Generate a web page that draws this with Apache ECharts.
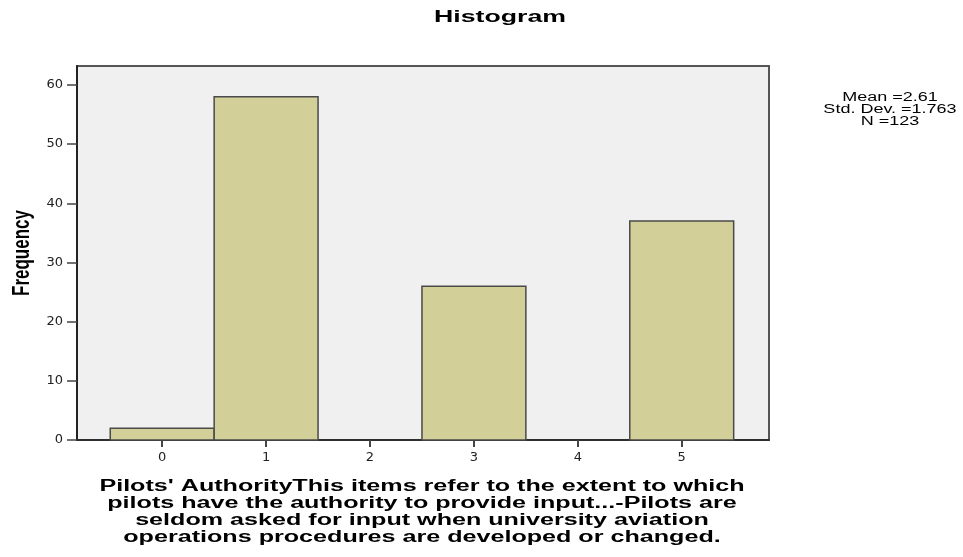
<!DOCTYPE html>
<html>
<head>
<meta charset="utf-8">
<script src="https://cdn.jsdelivr.net/npm/echarts@6/dist/echarts.min.js"></script>
<style>html,body{margin:0;padding:0;background:#fff}#c{width:963px;height:557px}</style>
</head>
<body>
<div id="c"></div>
<script>
const binCenters = [0, 1, 2, 3, 4, 5];
const frequencies = [2, 58, 0, 26, 0, 37];
const xTickValues = [0, 1, 2, 3, 4, 5];
const yTickValues = [0, 10, 20, 30, 40, 50, 60];
const statsLines = ['Mean =2.61', 'Std. Dev. =1.763', 'N =123'];
const titleText = 'Histogram';
const yTitle = 'Frequency';
const xTitleLines = [
  "Pilots' AuthorityThis items refer to the extent to which",
  "pilots have the authority to provide input...-Pilots are",
  "seldom asked for input when university aviation",
  "operations procedures are developed or changed."
];

const FONT = '"Liberation Sans", Arial, sans-serif';
const TICKFONT = '"DejaVu Sans", "Liberation Sans", sans-serif';
const chart = echarts.init(document.getElementById('c'), null, {renderer: 'canvas'});
const data = binCenters.map((x, i) => [x, frequencies[i]]);

chart.setOption({
  animation: false,
  backgroundColor: '#ffffff',
  graphic: [
    {
      type: 'text', x: 500, y: 9, scaleX: 1.57,
      style: {text: titleText, font: 'bold 17px ' + FONT, align: 'center', verticalAlign: 'top', fill: '#000'}
    },
    {
      type: 'text', x: 890, y: 92, scaleX: 1.5,
      style: {text: statsLines.join('\n'), font: '12px ' + FONT, lineHeight: 12, align: 'center', verticalAlign: 'top', fill: '#000'}
    },
    {
      type: 'text', x: 422, y: 478, scaleX: 1.57,
      style: {text: xTitleLines.join('\n'), font: 'bold 16px ' + FONT, lineHeight: 17, align: 'center', verticalAlign: 'top', fill: '#000'}
    },
    {
      type: 'text', x: 22, y: 253, rotation: Math.PI / 2, scaleY: 1.4,
      style: {text: yTitle, font: 'bold 17px ' + FONT, align: 'center', verticalAlign: 'middle', fill: '#000'}
    }
  ],
  grid: {
    left: 77, right: 194, top: 66, bottom: 117,
    show: true, backgroundColor: '#F0F0F0', borderColor: '#555', borderWidth: 2
  },
  xAxis: {
    type: 'value', min: -0.82, max: 5.84,
    axisLine: {show: true, onZero: false, lineStyle: {color: '#222', width: 1.5}},
    axisTick: {show: true, customValues: xTickValues, length: 7, lineStyle: {color: '#444', width: 2}},
    axisLabel: {customValues: xTickValues, margin: 11, fontFamily: TICKFONT, fontSize: 13, color: '#222'},
    splitLine: {show: false}
  },
  yAxis: {
    type: 'value', min: 0, max: 63.2,
    axisLine: {show: true, onZero: false, lineStyle: {color: '#222', width: 2}},
    axisTick: {show: true, customValues: yTickValues, length: 10, lineStyle: {color: '#444', width: 1.5}},
    axisLabel: {customValues: yTickValues, margin: 14, fontFamily: TICKFONT, fontSize: 13, color: '#222'},
    splitLine: {show: false}
  },
  series: [{
    type: 'custom',
    data: data,
    renderItem: function (params, api) {
      const x = api.value(0), y = api.value(1);
      if (!y) return null;
      const p0 = api.coord([x - 0.5, y]);
      const p1 = api.coord([x + 0.5, 0]);
      return {
        type: 'rect',
        shape: {x: p0[0], y: p0[1], width: p1[0] - p0[0], height: p1[1] - p0[1]},
        style: {fill: '#D3CF98', stroke: '#4a4a4a', lineWidth: 1.5}
      };
    }
  }]
});
</script>
</body>
</html>
